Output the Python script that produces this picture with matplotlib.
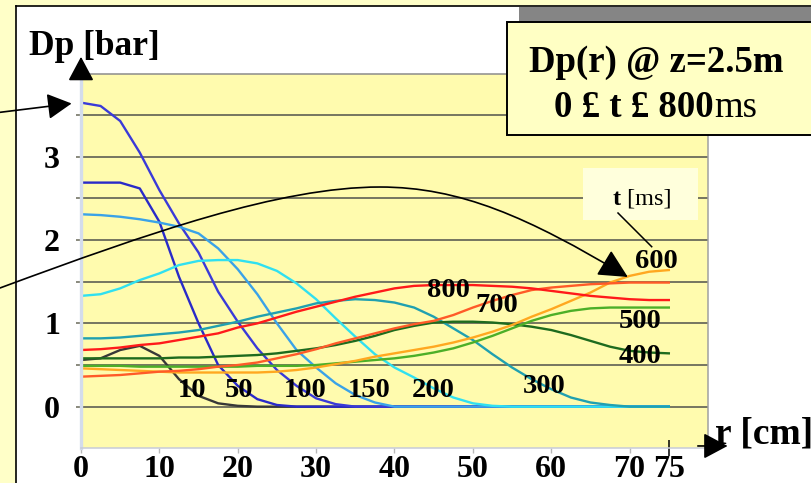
import matplotlib
matplotlib.use('Agg')
import matplotlib.pyplot as plt
import matplotlib.transforms as mtransforms
from matplotlib.patches import Rectangle, FancyArrowPatch
from matplotlib.path import Path
from matplotlib.lines import Line2D
from matplotlib.text import Annotation

plt.rcParams['font.family'] = ['Liberation Serif', 'DejaVu Serif']
plt.rcParams['font.weight'] = 'bold'

# radial positions [cm]
r_cm = [0, 2.5, 5, 7.5, 10, 12.5, 15, 17.5, 20, 22.5, 25, 27.5, 30, 32.5, 35,
        37.5, 40, 42.5, 45, 47.5, 50, 52.5, 55, 57.5, 60, 62.5, 65, 67.5, 70,
        72.5, 75]

# pressure Dp [bar] at z = 2.5 m, one list per time step
dp_10 = [0.56, 0.58, 0.68, 0.73, 0.61, 0.33, 0.13, 0.04, 0.01, 0.0, 0.0, 0.0,
         0.0, 0.0, 0.0, 0.0, 0.0, 0.0, 0.0, 0.0, 0.0, 0.0, 0.0, 0.0, 0.0, 0.0,
         0.0, 0.0, 0.0, 0.0, 0.0]
dp_50 = [2.69, 2.69, 2.69, 2.62, 2.22, 1.56, 1.0, 0.50, 0.25, 0.09, 0.02,
         0.0, 0.0, 0.0, 0.0, 0.0, 0.0, 0.0, 0.0, 0.0, 0.0, 0.0, 0.0, 0.0, 0.0,
         0.0, 0.0, 0.0, 0.0, 0.0, 0.0]
dp_100 = [3.65, 3.61, 3.43, 3.05, 2.60, 2.20, 1.85, 1.38, 1.02, 0.70, 0.44,
          0.25, 0.10, 0.03, 0.0, 0.0, 0.0, 0.0, 0.0, 0.0, 0.0, 0.0, 0.0, 0.0,
          0.0, 0.0, 0.0, 0.0, 0.0, 0.0, 0.0]
dp_150 = [2.31, 2.30, 2.28, 2.25, 2.21, 2.16, 2.08, 1.90, 1.65, 1.35, 1.0,
          0.68, 0.47, 0.28, 0.14, 0.05, 0.0, 0.0, 0.0, 0.0, 0.0, 0.0, 0.0,
          0.0, 0.0, 0.0, 0.0, 0.0, 0.0, 0.0, 0.0]
dp_200 = [1.33, 1.35, 1.42, 1.52, 1.60, 1.70, 1.75, 1.76, 1.76, 1.72, 1.63,
          1.48, 1.29, 1.06, 0.84, 0.63, 0.47, 0.35, 0.22, 0.11, 0.04, 0.01,
          0.0, 0.0, 0.0, 0.0, 0.0, 0.0, 0.0, 0.0, 0.0]
dp_300 = [0.82, 0.82, 0.83, 0.85, 0.87, 0.89, 0.92, 0.97, 1.02, 1.08, 1.13,
          1.18, 1.24, 1.27, 1.29, 1.28, 1.25, 1.19, 1.08, 0.94, 0.80, 0.63,
          0.47, 0.33, 0.21, 0.11, 0.05, 0.02, 0.0, 0.0, 0.0]
dp_400 = [0.58, 0.58, 0.58, 0.58, 0.58, 0.59, 0.59, 0.60, 0.61, 0.62, 0.64,
          0.67, 0.70, 0.74, 0.79, 0.85, 0.92, 0.97, 1.01, 1.02, 1.02, 1.01,
          0.99, 0.96, 0.92, 0.86, 0.79, 0.72, 0.67, 0.65, 0.64]
dp_500 = [0.49, 0.49, 0.49, 0.48, 0.48, 0.48, 0.48, 0.48, 0.48, 0.49, 0.49,
          0.49, 0.50, 0.52, 0.54, 0.56, 0.58, 0.61, 0.65, 0.70, 0.77, 0.85,
          0.94, 1.03, 1.10, 1.15, 1.18, 1.19, 1.19, 1.19, 1.19]
dp_600 = [0.46, 0.45, 0.44, 0.43, 0.42, 0.41, 0.41, 0.41, 0.41, 0.41, 0.42,
          0.44, 0.47, 0.51, 0.55, 0.60, 0.64, 0.68, 0.72, 0.77, 0.83, 0.90,
          0.98, 1.08, 1.17, 1.27, 1.37, 1.49, 1.57, 1.62, 1.64]
dp_700 = [0.36, 0.37, 0.38, 0.40, 0.42, 0.43, 0.45, 0.48, 0.50, 0.53, 0.58,
          0.63, 0.69, 0.76, 0.82, 0.88, 0.94, 0.99, 1.03, 1.10, 1.19, 1.27,
          1.34, 1.40, 1.43, 1.45, 1.47, 1.48, 1.49, 1.49, 1.49]
dp_800 = [0.68, 0.69, 0.71, 0.74, 0.76, 0.80, 0.84, 0.88, 0.95, 1.0, 1.07,
          1.14, 1.20, 1.26, 1.32, 1.37, 1.42, 1.45, 1.46, 1.46, 1.46, 1.45,
          1.44, 1.42, 1.39, 1.36, 1.33, 1.31, 1.29, 1.28, 1.28]

t_labels = ['10', '50', '100', '150', '200', '300', '400', '500', '600',
            '700', '800']
series = [dp_10, dp_50, dp_100, dp_150, dp_200, dp_300, dp_400, dp_500,
          dp_600, dp_700, dp_800]
colors = ['#383838', '#2a2ac8', '#3a3ad8', '#3aa2e8', '#30e0f0', '#20a0b0',
          '#1e6b1e', '#4caf28', '#ffa820', '#ff5a28', '#ff1a1a']
# where each time label sits (r, baseline Dp)
label_xy = [(14.2, 0.12), (20.2, 0.12), (28.6, 0.12), (36.8, 0.12),
            (44.9, 0.12), (59.1, 0.16), (71.3, 0.52), (71.3, 0.94),
            (73.4, 1.66), (53.1, 1.14), (46.9, 1.32)]

W, H = 812, 483
fig = plt.figure(figsize=(W / 100, H / 100), dpi=100)
fig.patch.set_facecolor('white')
# pixel coords, origin top-left, for the slide decoration
px = mtransforms.Affine2D().scale(1 / W, -1 / H).translate(0, 1) + fig.transFigure

# slide frame
fig.add_artist(Rectangle((0, 0), W, 6, transform=px, fc='#ffffc8', ec='none', zorder=-2))
fig.add_artist(Rectangle((0, 0), 16, H, transform=px, fc='#ffffc8', ec='none', zorder=-2))
fig.add_artist(Line2D([16.5, 16.5], [6, H], transform=px, color='k', lw=1.2, zorder=-1))
fig.add_artist(Line2D([16, W], [6, 6], transform=px, color='k', lw=1.2, zorder=-1))

ax = fig.add_axes([81 / W, 1 - 448.3 / H, 627 / W, 374.8 / H])
ax.set_facecolor('#fffbae')
ax.set_xlim(0, 80)
ax.set_ylim(-0.5, 4.0)

grid_c = '#6a6a5a'
ax.set_yticks([0, 0.5, 1, 1.5, 2, 2.5, 3, 3.5])
ax.set_yticklabels(['0', '', '1', '', '2', '', '3', ''])
ax.yaxis.grid(True, color=grid_c, lw=1.3)
ax.tick_params(axis='y', length=3.6, width=1.1, color=grid_c, pad=11.5,
               labelsize=23)
ax.set_xticks([0, 10, 20, 30, 40, 50, 60, 70])
ax.set_xticks([75], minor=True)
ax.set_xticklabels(['0', '10', '20', '30', '40', '50', '60', '70'])
ax.set_xticklabels(['75'], minor=True)
ax.tick_params(axis='x', which='major', length=3.5, width=1, color='#b8b8b8',
               pad=1, labelsize=23)
ax.tick_params(axis='x', which='minor', direction='inout', length=11.5,
               width=1.1, color='k', pad=-1.25, labelsize=23)
ax.set_axisbelow(True)

ax.spines['left'].set_color('#d4dcec')
ax.spines['left'].set_linewidth(2.4)
ax.spines['top'].set_color('#8c8c8c')
ax.spines['top'].set_linewidth(1.1)
ax.spines['right'].set_color('#a0a0a0')
ax.spines['right'].set_linewidth(1.1)
ax.spines['bottom'].set_color('#c8ccd8')
ax.spines['bottom'].set_linewidth(1.1)

for dp, c in zip(series, colors):
    ax.plot(r_cm, dp, color=c, lw=1.7, solid_joinstyle='round')

for lab, (x, y) in zip(t_labels, label_xy):
    ax.text(x, y, lab, ha='center', va='baseline', fontsize=20.5, zorder=5)

# axis arrows
head = dict(arrowstyle='-|>,head_length=0.75,head_width=0.4', mutation_scale=20,
            color='k', lw=1.2, shrinkA=0, shrinkB=0)
ax.annotate('', xy=(0, 4.2), xytext=(0, 4.0), arrowprops=head,
            annotation_clip=False)
ax.annotate('', xy=(82.5, -0.472), xytext=(78.7, -0.472), arrowprops=head,
            annotation_clip=False)
# pointer to the peak at the axis
ax.annotate('', xy=(-1.2, 3.64), xytext=(-10.33, 3.534), arrowprops=head,
            annotation_clip=False)

# long curved pointer onto the 600 ms curve
verts = [(-10.33, 1.425), (8.80, 2.091), (25.38, 2.637), (38.14, 2.637),
         (48.34, 2.637), (57.02, 2.277), (69.77, 1.557)]
codes = [Path.MOVETO] + [Path.CURVE4] * 6
bow = FancyArrowPatch(path=Path(verts, codes),
                      arrowstyle='-|>,head_length=0.9,head_width=0.45',
                      mutation_scale=20, color='k', lw=1.2,
                      transform=ax.transData, clip_on=False, zorder=6)
ax.add_artist(bow)

# axis titles
fig.text(29, 55, 'Dp [bar]', transform=px, fontsize=25.5, ha='left', va='baseline')
fig.text(715, 443, 'r [cm]', transform=px, fontsize=27, ha='left', va='baseline')

# "t [ms]" tag with leader line
fig.add_artist(Rectangle((583, 168), 115, 52, transform=px, fc='#ffffdc',
                         ec='none', zorder=2))
fig.add_artist(Line2D([618, 651.7], [213, 246.7], transform=px, color='k',
                      lw=1.1, zorder=3))
t_bold = fig.text(613, 205, 't', transform=px, fontsize=17.5, ha='left',
                  va='baseline', zorder=4)
fig.add_artist(Annotation(' [ms]', xy=(1, 0), xycoords=t_bold, ha='left',
                          va='bottom', fontsize=17.5, fontweight='normal',
                          zorder=4))

# title box with shadow
fig.add_artist(Rectangle((519, 7), 300, 15, transform=px, fc='#858585',
                         ec='none', zorder=2))
fig.add_artist(Rectangle((506.7, 22), 320, 112.7, transform=px, fc='#ffffc4',
                         ec='k', lw=1.4, zorder=3))
fig.text(656.5, 71.7, 'Dp(r) @ z=2.5m', transform=px, fontsize=26.5,
         ha='center', va='baseline', zorder=4)
t_rng = fig.text(714, 116.7, '0 £ t £ 800', transform=px, fontsize=26.5,
                 ha='right', va='baseline', zorder=4)
fig.add_artist(Annotation('ms', xy=(1, 0), xycoords=t_rng, ha='left',
                          va='bottom', fontsize=26.5, fontweight='normal',
                          zorder=4))

fig.savefig('out.png', dpi=100)
